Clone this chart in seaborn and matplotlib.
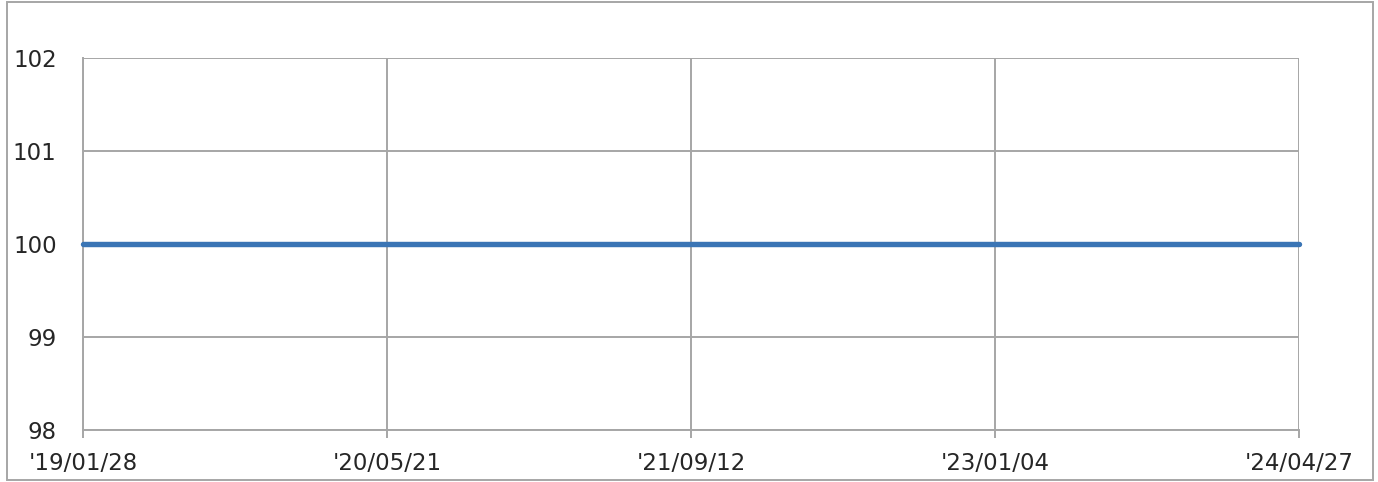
import matplotlib
matplotlib.use("Agg")
import matplotlib.pyplot as plt
import matplotlib.patches as mpatches
import seaborn as sns
import pandas as pd

dates = ["2019-01-28", "2020-05-21", "2021-09-12", "2023-01-04", "2024-04-27"]
values = [100, 100, 100, 100, 100]
tick_labels = ["'19/01/28", "'20/05/21", "'21/09/12", "'23/01/04", "'24/04/27"]
y_ticks = [98, 99, 100, 101, 102]

sns.set_style("white")
plt.rcParams['font.family'] = ['DejaVu Sans']

df = pd.DataFrame({"date": pd.to_datetime(dates), "value": values})

fig = plt.figure(figsize=(13.78, 4.82), dpi=100)
ax = fig.add_axes([83/1378, 1 - 430/482, (1299 - 83)/1378, (430 - 58)/482])

sns.lineplot(data=df, x="date", y="value", ax=ax, color="#3A75B5", linewidth=3.9,
             solid_capstyle="round", clip_on=False, zorder=5)

grid_c = "#A6A6A6"
ax.set_xlim(df["date"].iloc[0], df["date"].iloc[-1])
ax.set_ylim(98, 102)
ax.set_yticks(y_ticks)
ax.set_yticklabels([str(v) for v in y_ticks])
ax.set_xticks(pd.to_datetime(dates))
ax.set_xticklabels(tick_labels)
ax.grid(True, color=grid_c, linewidth=1.4)
ax.set_axisbelow(True)
for s in ["top", "right"]:
    ax.spines[s].set_visible(False)
for s in ["left", "bottom"]:
    ax.spines[s].set_color(grid_c)
    ax.spines[s].set_linewidth(1.4)
ax.tick_params(axis="x", bottom=True, direction="out", length=5.8, width=1.4, color=grid_c,
               labelsize=16.5, labelcolor="#262626", pad=10)
ax.tick_params(axis="y", left=False, length=0, labelsize=16.5, labelcolor="#262626", pad=19)
ax.set_xlabel("")
ax.set_ylabel("")

border = mpatches.Rectangle((7/1378, 2/482), (1373 - 7)/1378, (480 - 2)/482,
                            transform=fig.transFigure, fill=False,
                            edgecolor="#A6A6A6", linewidth=1.4)
fig.patches.append(border)

fig.savefig("out.png", dpi=100)
